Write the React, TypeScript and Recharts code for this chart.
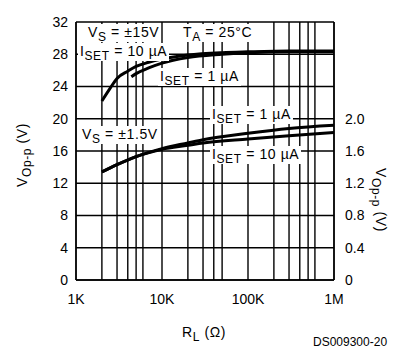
import { ComposedChart, Line, XAxis, YAxis, CartesianGrid } from 'recharts';

// load resistance (ohms) where the curves were read
const rl15Hi = [2000, 2500, 3000, 4000, 5000, 7000, 10000, 20000, 50000, 100000, 300000, 1000000];
const vs15Iset10 = [22.2, 23.8, 25.0, 25.9, 26.5, 27.0, 27.4, 27.9, 28.2, 28.3, 28.4, 28.4];

const rl15Lo = [4400, 5000, 7000, 10000, 20000, 50000, 100000, 300000, 1000000];
const vs15Iset1 = [25.2, 25.6, 26.3, 26.9, 27.6, 28.0, 28.2, 28.3, 28.3];

// +-1.5V curves are read on the right axis (volts)
const rl1p5 = [2000, 3000, 5000, 10000, 20000, 30000, 100000, 300000, 1000000];
const vs1p5Iset1 = [1.34, 1.43, 1.53, 1.63, 1.7, 1.74, 1.82, 1.88, 1.92];
const vs1p5Iset10 = [1.34, 1.43, 1.53, 1.62, 1.67, 1.7, 1.75, 1.79, 1.83];

const xTicks = [1000, 10000, 100000, 1000000];
const xTickLabels = ['1K', '10K', '100K', '1M'];
const xMinor = [
  1000, 2000, 3000, 4000, 5000, 6000, 7000, 8000, 9000,
  10000, 20000, 30000, 40000, 50000, 60000, 70000, 80000, 90000,
  100000, 200000, 300000, 400000, 500000, 600000, 700000, 800000, 900000,
  1000000,
];
const leftTicks = [0, 4, 8, 12, 16, 20, 24, 28, 32];
const rightTicks = [0, 0.4, 0.8, 1.2, 1.6, 2.0];
const yGrid = [0, 2, 4, 6, 8, 10, 12, 14, 16, 18, 20, 22, 24, 26, 28, 30, 32];

const toRows = (xs: number[], ys: number[]) => xs.map((r, i) => ({ r, v: ys[i] }));

const FONT = '"Liberation Sans", Arial, sans-serif';

function Sub({ main, sub }: { main: string; sub: string }) {
  return (
    <span>
      {main}
      <span style={{ fontSize: 12, position: 'relative', top: 4 }}>{sub}</span>
    </span>
  );
}

function Note({ x, y, children }: { x: number; y: number; children: React.ReactNode }) {
  return (
    <div
      style={{
        position: 'absolute',
        left: x,
        top: y,
        background: 'white',
        padding: '0 2px',
        fontSize: 14,
        lineHeight: '17px',
        letterSpacing: 0.6,
        whiteSpace: 'nowrap',
        color: 'black',
      }}
    >
      {children}
    </div>
  );
}

export default function App() {
  const lineProps = {
    type: 'monotone' as const,
    dataKey: 'v',
    stroke: '#000',
    strokeWidth: 3,
    dot: false,
    isAnimationActive: false,
  };

  return (
    <div style={{ position: 'absolute', left: 0, top: 0, width: 396, height: 361, fontFamily: FONT, background: 'white' }}>
      <ComposedChart width={396} height={361} margin={{ top: 22, right: 0, bottom: 51, left: 0 }}>
        <CartesianGrid
          yAxisId="left"
          stroke="#000"
          strokeWidth={1.4}
          verticalValues={xMinor}
          horizontalValues={yGrid}
        />
        <XAxis
          dataKey="r"
          type="number"
          scale="log"
          domain={[1000, 1000000]}
          ticks={xTicks}
          allowDataOverflow
          height={30}
          tickLine={false}
          tickMargin={8}
          axisLine={{ stroke: '#000', strokeWidth: 1.4 }}
          tick={{ fill: '#000', fontSize: 14 }}
          tickFormatter={(v: number) => xTickLabels[xTicks.indexOf(v)] ?? ''}
        />
        <YAxis
          yAxisId="left"
          orientation="left"
          width={76}
          domain={[0, 32]}
          ticks={leftTicks}
          allowDataOverflow
          tickLine={false}
          axisLine={{ stroke: '#000', strokeWidth: 1.4 }}
          tick={{ fill: '#000', fontSize: 14 }}
        />
        <YAxis
          yAxisId="right"
          orientation="right"
          width={62}
          domain={[0, 3.2]}
          ticks={rightTicks}
          allowDataOverflow
          tickLine={false}
          tickMargin={5}
          axisLine={{ stroke: '#000', strokeWidth: 1.4 }}
          tick={{ fill: '#000', fontSize: 14 }}
          tickFormatter={(v: number) => (v === 0 ? '0' : v.toFixed(1))}
        />
        <Line {...lineProps} yAxisId="left" data={toRows(rl15Hi, vs15Iset10)} />
        <Line {...lineProps} yAxisId="left" data={toRows(rl15Lo, vs15Iset1)} />
        <Line {...lineProps} yAxisId="right" data={toRows(rl1p5, vs1p5Iset1)} />
        <Line {...lineProps} yAxisId="right" data={toRows(rl1p5, vs1p5Iset10)} />
      </ComposedChart>

      <Note x={86} y={24}>
        <Sub main="V" sub="S" /> = ±15V
      </Note>
      <Note x={181} y={24}>
        <Sub main="T" sub="A" /> = 25°C
      </Note>
      <Note x={78} y={43}>
        <Sub main="I" sub="SET" /> = 10 µA
      </Note>
      <Note x={158} y={68}>
        <Sub main="I" sub="SET" /> = 1 µA
      </Note>
      <Note x={80} y={126}>
        <Sub main="V" sub="S" /> = ±1.5V
      </Note>
      <Note x={210} y={106}>
        <Sub main="I" sub="SET" /> = 1 µA
      </Note>
      <Note x={210} y={146}>
        <Sub main="I" sub="SET" /> = 10 µA
      </Note>

      <div
        style={{
          position: 'absolute',
          left: 22,
          top: 155,
          transform: 'translate(-50%, -50%) rotate(-90deg)',
          fontSize: 14,
          letterSpacing: 0.6,
          whiteSpace: 'nowrap',
        }}
      >
        <Sub main="V" sub="Op-p" /> (V)
      </div>
      <div
        style={{
          position: 'absolute',
          left: 381,
          top: 200,
          transform: 'translate(-50%, -50%) rotate(90deg)',
          fontSize: 14,
          letterSpacing: 0.6,
          whiteSpace: 'nowrap',
        }}
      >
        <Sub main="V" sub="Op-p" /> (V)
      </div>
      <div style={{ position: 'absolute', left: 182, top: 324, fontSize: 14, letterSpacing: 0.6, whiteSpace: 'nowrap' }}>
        <Sub main="R" sub="L" />  (Ω)
      </div>
      <div style={{ position: 'absolute', left: 313, top: 335, fontSize: 12, whiteSpace: 'nowrap' }}>DS009300-20</div>
    </div>
  );
}
